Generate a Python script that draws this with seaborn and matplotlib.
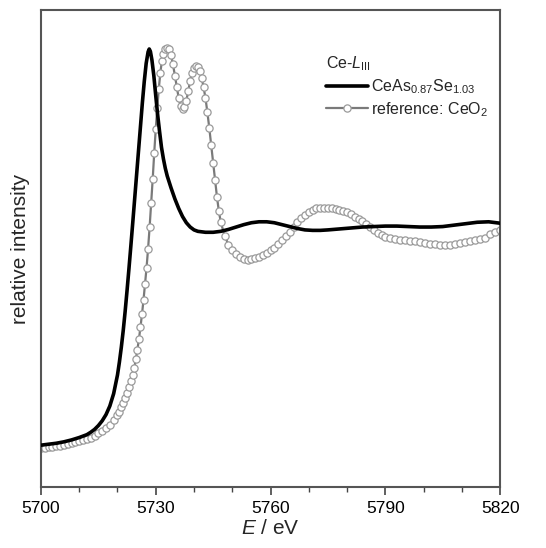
import pandas as pd
import matplotlib
matplotlib.use("Agg")
import matplotlib.pyplot as plt
import seaborn as sns

# CeAs0.87Se1.03 (solid black line)
sample_e = [5700, 5702, 5704, 5706, 5708, 5710, 5712, 5713, 5714, 5715, 5716, 5717,
            5718, 5719, 5720, 5720.5, 5721, 5721.5, 5722, 5722.5, 5723, 5723.5, 5724,
            5724.5, 5725, 5725.5, 5726, 5726.5, 5727, 5727.5, 5728, 5728.3, 5728.6,
            5729, 5729.5, 5730, 5730.5, 5731, 5731.5, 5732, 5732.5, 5733, 5734, 5735,
            5736, 5737, 5738, 5739, 5740, 5741, 5743, 5745, 5747, 5749, 5751, 5753,
            5755, 5757, 5759, 5761, 5763, 5765, 5767, 5769, 5771, 5773, 5775, 5778,
            5781, 5784, 5787, 5790, 5793, 5796, 5799, 5802, 5805, 5808, 5811, 5814,
            5817, 5820]
sample_i = [0.088, 0.090, 0.092, 0.095, 0.099, 0.104, 0.110, 0.115, 0.121, 0.129, 0.139,
            0.152, 0.170, 0.196, 0.235, 0.262, 0.293, 0.328, 0.368, 0.412, 0.458, 0.506,
            0.555, 0.605, 0.655, 0.705, 0.755, 0.805, 0.850, 0.888, 0.912, 0.918, 0.913,
            0.895, 0.862, 0.820, 0.780, 0.745, 0.712, 0.688, 0.668, 0.652, 0.627, 0.604,
            0.584, 0.567, 0.554, 0.545, 0.539, 0.536, 0.534, 0.534, 0.536, 0.540, 0.545,
            0.550, 0.554, 0.556, 0.556, 0.554, 0.550, 0.546, 0.542, 0.539, 0.538, 0.538,
            0.539, 0.541, 0.543, 0.545, 0.546, 0.547, 0.547, 0.546, 0.545, 0.545, 0.546,
            0.549, 0.552, 0.555, 0.556, 0.553]

# reference: CeO2 (grey open circles)
ref_e = [5700, 5701, 5702, 5703, 5704, 5705, 5706, 5707, 5708, 5709, 5710, 5711, 5712,
         5713, 5714, 5715, 5716, 5717, 5718, 5719, 5720, 5720.5, 5721, 5721.5, 5722,
         5722.5, 5723, 5723.5, 5724, 5724.4, 5724.8, 5725.2, 5725.6, 5726, 5726.4,
         5726.8, 5727.2, 5727.6, 5728, 5728.4, 5728.8, 5729.2, 5729.6, 5730, 5730.4,
         5730.8, 5731.2, 5731.6, 5732, 5732.5, 5733, 5733.5, 5734, 5734.5, 5735,
         5735.5, 5736, 5736.5, 5737, 5737.5, 5738, 5738.5, 5739, 5739.5, 5740, 5740.5,
         5741, 5741.5, 5742, 5742.5, 5743, 5743.5, 5744, 5744.5, 5745, 5745.5, 5746,
         5746.5, 5747, 5748, 5749, 5750, 5751, 5752, 5753, 5754, 5755, 5756, 5757,
         5758, 5759, 5760, 5761, 5762, 5763, 5764, 5765, 5766, 5767, 5768, 5769, 5770,
         5771, 5772, 5773, 5774, 5775, 5776, 5777, 5778, 5779, 5780, 5781, 5782, 5783,
         5784, 5785, 5786, 5787, 5788, 5789, 5790, 5791.3, 5792.6, 5793.9, 5795.2,
         5796.5, 5797.8, 5799.1, 5800.4, 5801.7, 5803, 5804.3, 5805.6, 5806.9, 5808.2,
         5809.5, 5810.8, 5812.1, 5813.4, 5814.7, 5816, 5817.3, 5818.6, 5819.9]
ref_i = [0.082, 0.083, 0.084, 0.085, 0.086, 0.087, 0.089, 0.090, 0.092, 0.094, 0.096,
         0.098, 0.101, 0.104, 0.108, 0.113, 0.118, 0.124, 0.131, 0.140, 0.151, 0.158,
         0.167, 0.176, 0.187, 0.198, 0.210, 0.222, 0.236, 0.250, 0.268, 0.288, 0.310,
         0.335, 0.362, 0.392, 0.425, 0.460, 0.500, 0.545, 0.595, 0.645, 0.700, 0.750,
         0.795, 0.835, 0.868, 0.893, 0.908, 0.918, 0.921, 0.917, 0.905, 0.886, 0.862,
         0.838, 0.815, 0.799, 0.792, 0.796, 0.810, 0.830, 0.852, 0.868, 0.878, 0.882,
         0.880, 0.872, 0.858, 0.838, 0.815, 0.785, 0.752, 0.716, 0.680, 0.643, 0.608,
         0.578, 0.555, 0.527, 0.508, 0.496, 0.488, 0.482, 0.478, 0.476, 0.477, 0.480,
         0.483, 0.487, 0.491, 0.496, 0.502, 0.509, 0.517, 0.526, 0.535, 0.546, 0.556,
         0.564, 0.571, 0.577, 0.581, 0.584, 0.585, 0.585, 0.585, 0.584, 0.583, 0.581,
         0.579, 0.576, 0.572, 0.567, 0.562, 0.557, 0.551, 0.545, 0.539, 0.533, 0.528,
         0.524, 0.521, 0.519, 0.518, 0.517, 0.516, 0.515, 0.513, 0.512, 0.510, 0.509,
         0.508, 0.507, 0.508, 0.509, 0.511, 0.513, 0.515, 0.517, 0.519, 0.523, 0.530,
         0.535, 0.538]

x_ticks = [5700, 5730, 5760, 5790, 5820]

sample = pd.DataFrame({"E": sample_e, "I": sample_i})
ref = pd.DataFrame({"E": ref_e, "I": ref_i})

sns.set_style("white")
plt.rcParams["font.family"] = ["Liberation Sans", "DejaVu Sans"]
plt.rcParams["mathtext.fontset"] = "custom"
plt.rcParams["mathtext.rm"] = "Liberation Sans"
plt.rcParams["mathtext.it"] = "Liberation Sans:italic"

fig = plt.figure(figsize=(5.46, 5.48), dpi=100)
ax = fig.add_axes([0.075, 0.111, 0.841, 0.871])

sns.lineplot(data=ref, x="E", y="I", ax=ax, color="#7a7a7a", linewidth=1.6,
             marker="o", markersize=5.2, markerfacecolor="white",
             markeredgecolor="#9a9a9a", markeredgewidth=0.9,
             label="reference: CeO$_2$", zorder=2)
sns.lineplot(data=sample, x="E", y="I", ax=ax, color="black", linewidth=2.6,
             label="CeAs$_{0.87}$Se$_{1.03}$", zorder=3)

ax.set_xlim(5700, 5820)
ax.set_ylim(0, 1)
ax.set_xticks(x_ticks)
ax.set_xticks(range(5700, 5821, 10), minor=True)
ax.set_yticks([])
ax.tick_params(axis="x", which="both", bottom=True)
ax.tick_params(axis="x", which="major", direction="out", length=6, width=1.2,
               colors="#444444", labelsize=12.5, labelcolor="black", pad=4)
ax.tick_params(axis="x", which="minor", direction="out", length=3.5, width=1.0,
               colors="#444444")
for s in ax.spines.values():
    s.set_color("#555555")
    s.set_linewidth(1.5)

ax.set_xlabel("$E$ / eV", fontsize=15, labelpad=2)
ax.set_ylabel("relative intensity", fontsize=15, labelpad=8)

handles, labels = ax.get_legend_handles_labels()
leg = ax.legend(handles[::-1], labels[::-1], title="Ce-$L$$_{\\mathrm{III}}$",
                loc="upper left", bbox_to_anchor=(0.607, 0.92), frameon=False,
                fontsize=11.5, title_fontsize=11.5, handlelength=2.6,
                handletextpad=0.2, labelspacing=0.25, alignment="left",
                borderaxespad=0)

fig.savefig("out.png", dpi=100)
